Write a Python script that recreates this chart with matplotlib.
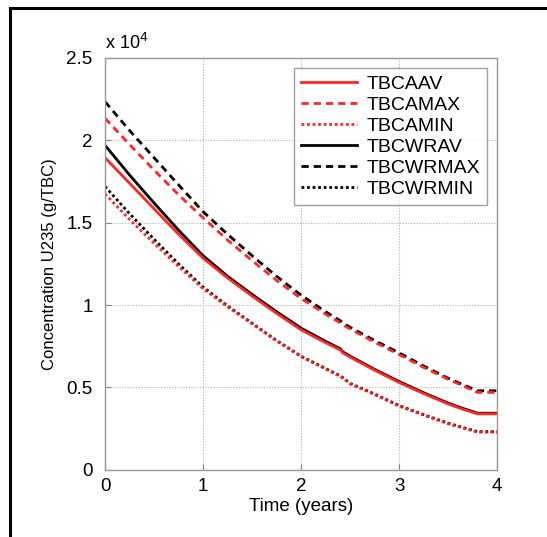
import matplotlib
matplotlib.use("Agg")
import matplotlib.pyplot as plt
from matplotlib.lines import Line2D

# time axis (years) and U235 concentration curves, in units of 1e4 g/TBC
time_years = [0, 0.25, 0.5, 0.75, 1.0, 1.25, 1.5, 1.75, 2.0, 2.25, 2.4, 2.42,
              2.5, 2.75, 3.0, 3.25, 3.5, 3.65, 3.8, 4.0]

tbca_av = [1.895, 1.74, 1.585, 1.43, 1.285, 1.165, 1.055, 0.95, 0.85, 0.772, 0.728, 0.712,
           0.684, 0.605, 0.53, 0.463, 0.40, 0.368, 0.34, 0.34]
tbca_max = [2.134, 1.975, 1.82, 1.67, 1.53, 1.395, 1.27, 1.15, 1.04, 0.945, 0.892, 0.883,
            0.855, 0.775, 0.70, 0.622, 0.55, 0.51, 0.47, 0.47]
tbca_min = [1.675, 1.52, 1.375, 1.235, 1.10, 0.99, 0.886, 0.782, 0.687, 0.612, 0.567, 0.559,
            0.522, 0.457, 0.387, 0.332, 0.28, 0.254, 0.229, 0.229]
tbcwr_av = [1.97, 1.79, 1.62, 1.455, 1.30, 1.175, 1.065, 0.96, 0.86, 0.78, 0.735, 0.718,
            0.69, 0.61, 0.536, 0.468, 0.405, 0.373, 0.344, 0.344]
tbcwr_max = [2.235, 2.06, 1.895, 1.73, 1.567, 1.43, 1.30, 1.175, 1.06, 0.96, 0.905, 0.895,
             0.865, 0.785, 0.71, 0.63, 0.556, 0.517, 0.48, 0.48]
tbcwr_min = [1.72, 1.555, 1.40, 1.25, 1.11, 0.995, 0.89, 0.785, 0.69, 0.615, 0.57, 0.562,
             0.525, 0.46, 0.39, 0.335, 0.283, 0.257, 0.232, 0.232]

series_names = ["TBCAAV", "TBCAMAX", "TBCAMIN", "TBCWRAV", "TBCWRMAX", "TBCWRMIN"]
series_values = [tbca_av, tbca_max, tbca_min, tbcwr_av, tbcwr_max, tbcwr_min]

RED = "#ff2626"
DASH = (0, (2.6, 1.8))
DOT = (0, (1, 1))
styles = [
    dict(color=RED, linestyle="-"),
    dict(color=RED, linestyle=DASH),
    dict(color=RED, linestyle=DOT),
    dict(color="black", linestyle="-"),
    dict(color="black", linestyle=DASH),
    dict(color="black", linestyle=DOT),
]

plt.rcParams["font.family"] = ["Liberation Sans", "DejaVu Sans"]

fig = plt.figure(figsize=(5.47, 5.37), dpi=100)
ax = fig.add_axes([0.192, 0.125, 0.717, 0.767])

# red curves go on top of the black ones where they overlap
order = [4, 3, 5, 1, 0, 2]
handles = {}
for i in order:
    h, = ax.plot(time_years, series_values[i], linewidth=2.0, label=series_names[i],
                 **styles[i])
    handles[i] = h

ax.set_xlim(0, 4)
ax.set_ylim(0, 2.5)
ax.set_xticks([0, 1, 2, 3, 4])
ax.set_yticks([0, 0.5, 1, 1.5, 2, 2.5])
ax.set_xticklabels(["0", "1", "2", "3", "4"])
ax.set_yticklabels(["0", "0.5", "1", "1.5", "2", "2.5"])
ax.tick_params(direction="in", length=4, labelsize=13.5, color="#888888")
ax.tick_params(axis="y", pad=9)
ax.tick_params(axis="x", pad=6)
ax.grid(True, linestyle=(0, (1, 1.5)), color="#b0b0b0", linewidth=0.8)
for sp in ax.spines.values():
    sp.set_color("#999999")
    sp.set_linewidth(1.0)

ax.set_xlabel("Time (years)", fontsize=13.5, labelpad=2)
ax.set_ylabel("Concentration U235 (g/TBC)", fontsize=12, labelpad=7)
ax.text(0.0, 1.012, "x 10$^4$", transform=ax.transAxes, fontsize=13,
        ha="left", va="bottom")

leg = ax.legend([handles[i] for i in range(6)], series_names, loc="upper right",
                bbox_to_anchor=(0.975, 0.975), fontsize=14, frameon=True, fancybox=False,
                edgecolor="#888888", handlelength=2.9, handletextpad=0.5,
                labelspacing=0.18, borderpad=0.35, borderaxespad=0.0)
leg.get_frame().set_linewidth(1.0)

# page border along the top and left edges
fig.add_artist(Line2D([10 / 547, 1.0], [1 - 8 / 537, 1 - 8 / 537],
                      transform=fig.transFigure, color="black", linewidth=2.2))
fig.add_artist(Line2D([10 / 547, 10 / 547], [0.0, 1 - 8 / 537],
                      transform=fig.transFigure, color="black", linewidth=2.2))

fig.savefig("out.png", dpi=100)
